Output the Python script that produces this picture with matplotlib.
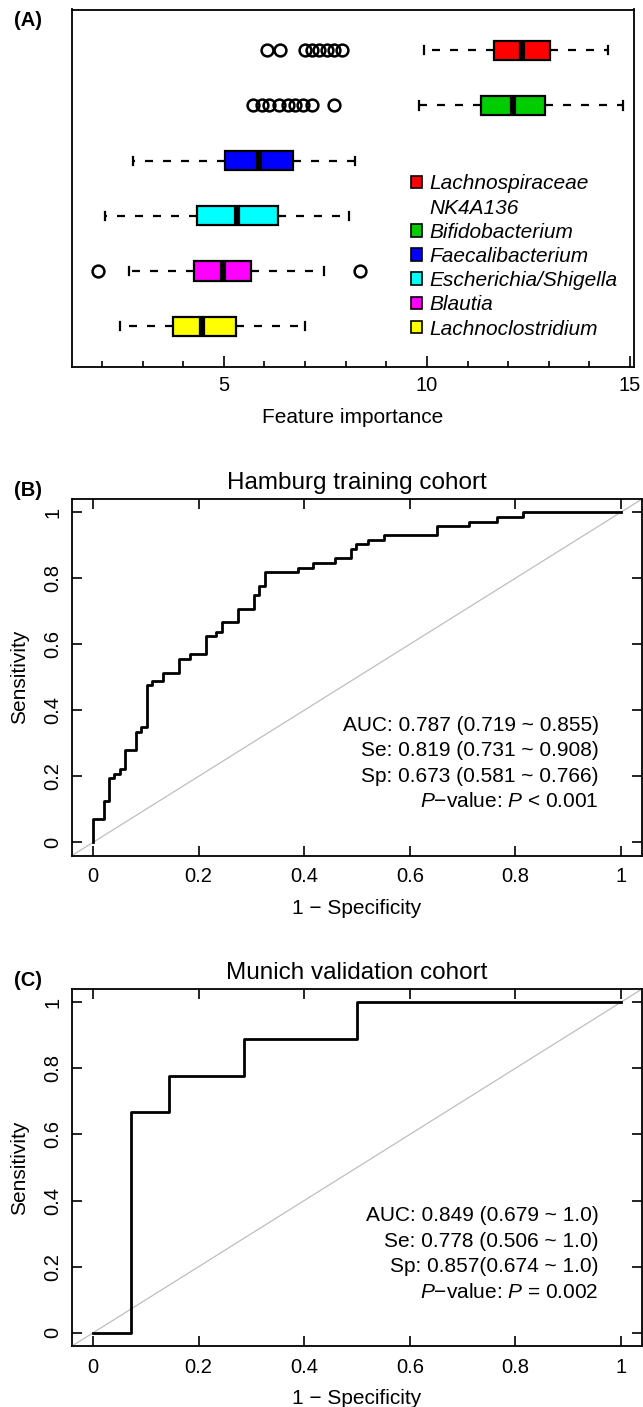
import matplotlib
matplotlib.use("Agg")
import matplotlib.pyplot as plt
from matplotlib.patches import Patch

plt.rcParams['font.family'] = ['Liberation Sans', 'DejaVu Sans']
plt.rcParams['mathtext.fontset'] = 'custom'
plt.rcParams['mathtext.rm'] = 'Liberation Sans'
plt.rcParams['mathtext.it'] = 'Liberation Sans:italic'
plt.rcParams['axes.linewidth'] = 1.3

# ---- panel A: feature importance (bottom row first) ----
taxa = ['Lachnoclostridium', 'Blautia', 'Escherichia/Shigella',
        'Faecalibacterium', 'Bifidobacterium', 'Lachnospiraceae\nNK4A136']
colors = ['#FFFF00', '#FF00FF', '#00FFFF', '#0000FF', '#00CD00', '#FF0000']
q1 = [3.74, 4.27, 4.35, 5.04, 11.34, 11.66]
med = [4.45, 4.97, 5.32, 5.86, 12.11, 12.34]
q3 = [5.31, 5.68, 6.33, 6.71, 12.90, 13.02]
whislo = [2.43, 2.67, 2.08, 2.77, 9.80, 9.92]
whishi = [7.00, 7.46, 8.09, 8.22, 14.84, 14.45]
fliers = [[], [1.89, 8.36], [], [],
          [5.71, 5.93, 6.12, 6.35, 6.58, 6.76, 6.94, 7.17, 7.70],
          [6.07, 6.39, 6.99, 7.17, 7.35, 7.54, 7.72, 7.92]]

# ---- panel B: Hamburg ROC (step corners) ----
fpr_b = [0, 0.021, 0.030, 0.040, 0.050, 0.061, 0.082, 0.091, 0.102, 0.1115,
         0.132, 0.163, 0.183, 0.213, 0.233, 0.244, 0.275, 0.305, 0.315, 0.326,
         0.388, 0.417, 0.459, 0.488, 0.499, 0.520, 0.551, 0.652, 0.713, 0.765,
         0.814, 1.0]
sens_b = [0, 0.070, 0.125, 0.194, 0.208, 0.223, 0.279, 0.335, 0.349, 0.476,
          0.490, 0.514, 0.555, 0.570, 0.624, 0.637, 0.666, 0.708, 0.748, 0.777,
          0.819, 0.832, 0.847, 0.861, 0.888, 0.903, 0.915, 0.930, 0.958, 0.971,
          0.986, 1.0]
stats_b = ["AUC: 0.787 (0.719 ~ 0.855)", "Se: 0.819 (0.731 ~ 0.908)",
           "Sp: 0.673 (0.581 ~ 0.766)", r"$\mathit{P}$−value: $\mathit{P}$ < 0.001"]

# ---- panel C: Munich ROC ----
fpr_c = [0, 0.071, 0.143, 0.286, 0.5, 1.0]
sens_c = [0, 0, 0.667, 0.778, 0.889, 1.0]
stats_c = ["AUC: 0.849 (0.679 ~ 1.0)", "Se: 0.778 (0.506 ~ 1.0)",
           "Sp: 0.857(0.674 ~ 1.0)", r"$\mathit{P}$−value: $\mathit{P}$ = 0.002"]

W, H = 643, 1407
fig = plt.figure(figsize=(W / 100, H / 100), dpi=100)


def rect(l, t, r, b):
    return [l / W, 1 - b / H, (r - l) / W, (b - t) / H]


# ================= A =================
axA = fig.add_axes(rect(72, 9.5, 634, 367))
bx = []
for i in range(len(taxa)):
    bx.append(dict(med=med[i], q1=q1[i], q3=q3[i], whislo=whislo[i],
                   whishi=whishi[i], fliers=fliers[i]))
res = axA.bxp(bx, positions=range(1, 7), widths=0.35, orientation='horizontal',
              patch_artist=True, capwidths=0.15,
              boxprops=dict(edgecolor='black', linewidth=1.6),
              whiskerprops=dict(color='black', linewidth=1.6, linestyle=(0, (3.6, 4.5))),
              capprops=dict(color='black', linewidth=1.6),
              medianprops=dict(color='black', linewidth=4.5, solid_capstyle='butt'),
              flierprops=dict(marker='o', markerfacecolor='none', markeredgecolor='black',
                              markersize=8.5, markeredgewidth=1.8))
for patch, c in zip(res['boxes'], colors):
    patch.set_facecolor(c)
axA.set_xlim(1.26, 15.1)
axA.set_ylim(0.26, 6.74)
axA.set_yticks([])
axA.set_xticks([5, 10, 15])
axA.set_xticks([v for v in range(2, 15) if v % 5], minor=True)
axA.tick_params(axis='x', which='major', direction='in', length=8, width=1.2,
                labelsize=14.5, pad=6.5)
axA.tick_params(axis='x', which='minor', direction='in', length=4, width=1.2)
axA.set_xlabel('Feature importance', fontsize=15, labelpad=9)

handles, labels = [], []
for name, c in zip(taxa[::-1], colors[::-1]):
    parts = name.split('\n')
    handles.append(Patch(facecolor=c, edgecolor='black', linewidth=1.2))
    labels.append(parts[0])
    for extra in parts[1:]:
        handles.append(Patch(facecolor='none', edgecolor='none'))
        labels.append(extra)
axA.legend(handles, labels, loc='upper left', bbox_to_anchor=(0.603, 0.539),
           frameon=False, prop=dict(style='italic', size=15), handlelength=0.55,
           handleheight=0.55, handletextpad=0.35, labelspacing=0.25, borderpad=0,
           borderaxespad=0)


# ================= B, C =================
def roc_panel(ax, fpr, sens, stats, title):
    ax.plot([-1, 2], [-1, 2], color='#BEBEBE', linewidth=0.9)
    ax.step(fpr, sens, where='pre', color='black', linewidth=2.0)
    ax.set_xlim(-0.04, 1.04)
    ax.set_ylim(-0.04, 1.04)
    ticks = [0, 0.2, 0.4, 0.6, 0.8, 1]
    tlab = ['0', '0.2', '0.4', '0.6', '0.8', '1']
    ax.set_xticks(ticks, tlab)
    ax.set_yticks(ticks, tlab)
    ax.tick_params(direction='in', length=7.5, width=1.2, labelsize=14.5,
                   top=True, right=True, pad=8.5)
    ax.tick_params(axis='y', labelrotation=90, pad=7)
    for lab in ax.get_yticklabels():
        lab.set_va('center')
    ax.set_xlabel('1 − Specificity', fontsize=15, labelpad=9)
    ax.set_ylabel('Sensitivity', fontsize=15, labelpad=10)
    ax.set_title(title, fontsize=17.5, pad=7)
    for k, s in enumerate(stats):
        ax.text(0.958, 0.355 - k * 0.0776, s, ha='right', va='center', fontsize=15)


axB = fig.add_axes(rect(72, 499, 642, 855.5))
roc_panel(axB, fpr_b, sens_b, stats_b, 'Hamburg training cohort')
axC = fig.add_axes(rect(72, 989, 642, 1346))
roc_panel(axC, fpr_c, sens_c, stats_c, 'Munich validation cohort')

for lab, y in [('(A)', 20), ('(B)', 490), ('(C)', 980)]:
    fig.text(28 / W, 1 - y / H, lab, ha='center', va='center', fontsize=14.5,
             fontweight='bold')

fig.savefig('out.png', dpi=100)
